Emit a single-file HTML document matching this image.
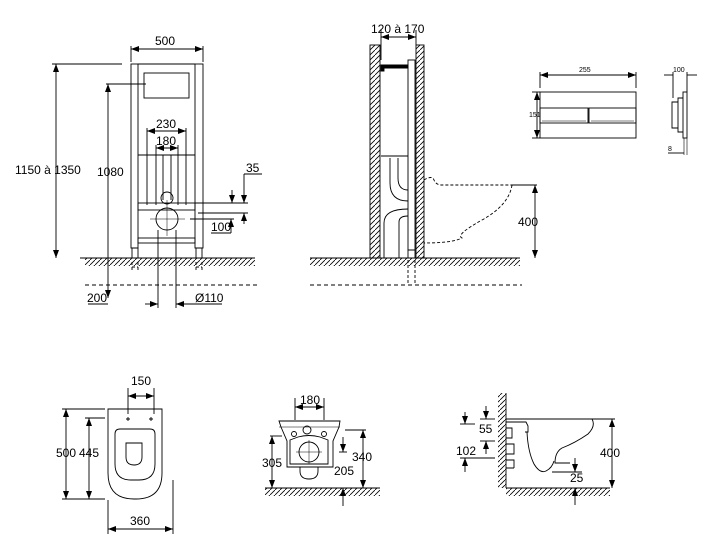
<!DOCTYPE html>
<html><head><meta charset="utf-8"><style>
html,body{margin:0;padding:0;background:#fff;}
svg{display:block;}
text{font-family:"Liberation Sans",sans-serif;font-size:12px;fill:#000;}
.s{font-size:7px;}
</style></head><body>
<svg width="720" height="552" viewBox="0 0 720 552" xmlns="http://www.w3.org/2000/svg">
<defs>
<pattern id="h" width="5" height="5" patternUnits="userSpaceOnUse"><path d="M0 5L5 0" stroke="#000" stroke-width="0.8"/></pattern>
<marker id="a" markerWidth="8" markerHeight="6" refX="8" refY="3" orient="auto-start-reverse" markerUnits="userSpaceOnUse"><path d="M0 0L8 3L0 6z" fill="#000"/></marker>
</defs>
<g stroke="#000" fill="none" stroke-width="0.9">
<!-- ===== Frame front view ===== -->
<rect x="131" y="64" width="7" height="184"/>
<rect x="195" y="64" width="8" height="184"/>
<line x1="138" y1="64" x2="195" y2="64"/>
<rect x="144" y="73" width="45" height="25"/>
<rect x="132" y="248" width="6" height="10"/><rect x="196" y="248" width="6" height="10"/>
<line x1="131" y1="46" x2="131" y2="62"/><line x1="203" y1="46" x2="203" y2="62"/>
<line x1="131" y1="49" x2="203" y2="49" marker-start="url(#a)" marker-end="url(#a)"/>
<line x1="52" y1="64" x2="122" y2="64"/>
<line x1="56" y1="64" x2="56" y2="258" marker-start="url(#a)" marker-end="url(#a)"/>
<line x1="106" y1="84" x2="146" y2="84"/>
<line x1="108" y1="84" x2="108" y2="258" marker-start="url(#a)"/>
<line x1="108" y1="258" x2="108" y2="298" marker-end="url(#a)"/>
<line x1="138" y1="155" x2="195" y2="155"/>
<line x1="147" y1="128" x2="147" y2="205"/><line x1="186" y1="128" x2="186" y2="205"/>
<line x1="147" y1="131" x2="186" y2="131" marker-start="url(#a)" marker-end="url(#a)"/>
<line x1="156" y1="145" x2="156" y2="205"/><line x1="178" y1="145" x2="178" y2="205"/>
<line x1="156" y1="148" x2="178" y2="148" marker-start="url(#a)" marker-end="url(#a)"/>
<line x1="163" y1="155" x2="163" y2="200"/><line x1="171" y1="155" x2="171" y2="200"/>
<circle cx="167" cy="198" r="6"/>
<rect x="138" y="203" width="57" height="7"/>
<circle cx="167" cy="219" r="11"/>
<line x1="150" y1="219" x2="185" y2="219" stroke-width="0.5"/><line x1="167" y1="200" x2="167" y2="236" stroke-width="0.5"/>
<line x1="158" y1="230" x2="158" y2="258"/><line x1="176" y1="230" x2="176" y2="258"/>
<rect x="138" y="238" width="57" height="5"/>
<line x1="195" y1="203" x2="248" y2="203"/><line x1="198" y1="213" x2="248" y2="213"/>
<line x1="232" y1="190" x2="232" y2="203" marker-end="url(#a)"/>
<line x1="244" y1="174" x2="244" y2="203" marker-end="url(#a)"/>
<line x1="244" y1="174" x2="262" y2="174"/>
<line x1="244" y1="213" x2="244" y2="224" marker-start="url(#a)"/>
<line x1="190" y1="219" x2="234" y2="219"/>
<line x1="211" y1="233" x2="231" y2="233"/>
<line x1="231" y1="219" x2="231" y2="233" marker-start="url(#a)"/>
<line x1="80" y1="258" x2="255" y2="258"/>
<rect x="85" y="258" width="170" height="8" fill="url(#h)" stroke="none"/>
<line x1="85" y1="285" x2="260" y2="285" stroke-dasharray="4,3"/>
<path d="M132 262v10M138 262v10M132 267h6M196 262v10M202 262v10M196 267h6" stroke-dasharray="3,2"/>
<line x1="158" y1="258" x2="158" y2="308"/><line x1="176" y1="258" x2="176" y2="308"/>
<line x1="88" y1="304" x2="108" y2="304"/>
<line x1="145" y1="304" x2="158" y2="304" marker-end="url(#a)"/>
<line x1="176" y1="304" x2="222" y2="304" marker-start="url(#a)"/>

<!-- ===== Side section ===== -->
<rect x="370" y="45" width="10" height="213" fill="url(#h)"/>
<rect x="416" y="45" width="8" height="213" fill="url(#h)"/>
<line x1="381" y1="37" x2="416" y2="37" marker-start="url(#a)" marker-end="url(#a)"/>
<line x1="381" y1="30" x2="381" y2="60"/><line x1="416" y1="30" x2="416" y2="45"/>
<rect x="408" y="60" width="7" height="190"/>
<path d="M381 65h27v3h-24v3h-3z" fill="#000"/>
<line x1="381" y1="156" x2="408" y2="156"/>
<path d="M390 158v25q0 18 18 18M398 158v20q0 12 10 12"/>
<path d="M384 258v-35q0-14 24-14M399 258v-36q0-6 9-6"/>
<rect x="408" y="250" width="7" height="8"/>
<path d="M424 180q8-5 10 0q2 5 8 5h70M512 185q-3 20-30 35t-20 18q-10 5-38 5" stroke-dasharray="3,2"/>
<line x1="512" y1="185" x2="537" y2="185"/>
<line x1="535" y1="185" x2="535" y2="258" marker-start="url(#a)" marker-end="url(#a)"/>
<line x1="310" y1="258" x2="520" y2="258"/>
<rect x="310" y="258" width="210" height="8" fill="url(#h)" stroke="none"/>
<line x1="310" y1="285" x2="522" y2="285" stroke-dasharray="4,3"/>
<path d="M408 260v24M415 260v24" stroke-dasharray="3,2"/>

<!-- ===== Flush plate ===== -->
<rect x="540" y="92" width="96" height="46"/>
<rect x="540" y="108" width="48" height="15"/><rect x="589" y="108" width="47" height="15"/>
<line x1="542" y1="121" x2="586" y2="121" stroke-width="0.6"/><line x1="591" y1="121" x2="634" y2="121" stroke-width="0.6"/>
<line x1="540" y1="72" x2="540" y2="88"/><line x1="636" y1="72" x2="636" y2="88"/>
<line x1="540" y1="75" x2="636" y2="75" marker-start="url(#a)" marker-end="url(#a)"/>
<line x1="532" y1="92" x2="540" y2="92"/><line x1="532" y1="138" x2="540" y2="138"/>
<line x1="537" y1="92" x2="537" y2="138" marker-start="url(#a)" marker-end="url(#a)"/>
<rect x="683" y="92" width="4" height="46"/>
<path d="M683 98h-5v34h5M678 102h-6v26h6"/>
<line x1="684" y1="138" x2="684" y2="155" stroke-width="0.6"/><line x1="687" y1="138" x2="687" y2="155" stroke-width="0.6"/>
<line x1="664" y1="75" x2="673" y2="75"/><line x1="687" y1="75" x2="697" y2="75"/>
<line x1="673" y1="72" x2="673" y2="98"/><line x1="687" y1="72" x2="687" y2="92"/>
<line x1="668" y1="153" x2="684" y2="153"/>

<!-- ===== Seat top view ===== -->
<path d="M108 409h54v64q0 26-26 26h-2q-26 0-26-26z"/>
<path d="M115 434q0-5 5-5h30q5 0 5 5v30q0 16-16 16h-8q-16 0-16-16z"/>
<path d="M126 443h16v14q0 8-8 8q-8 0-8-8z"/>
<path d="M126 419h4M128 417v4M149 419h4M151 417v4"/>
<line x1="128" y1="388" x2="128" y2="414"/><line x1="154" y1="388" x2="154" y2="414"/>
<line x1="128" y1="396" x2="154" y2="396" marker-start="url(#a)" marker-end="url(#a)"/>
<line x1="62" y1="409" x2="105" y2="409"/><line x1="62" y1="499" x2="105" y2="499"/>
<line x1="66" y1="409" x2="66" y2="499" marker-start="url(#a)" marker-end="url(#a)"/>
<line x1="85" y1="418" x2="105" y2="418"/>
<line x1="89" y1="418" x2="89" y2="499" marker-start="url(#a)" marker-end="url(#a)"/>
<line x1="108" y1="500" x2="108" y2="534"/><line x1="173" y1="480" x2="173" y2="534"/>
<line x1="108" y1="529" x2="173" y2="529" marker-start="url(#a)" marker-end="url(#a)"/>

<!-- ===== Front view bowl ===== -->
<path d="M279 421h61l-1 6l-6 14v26h-46v-26l-6-14z"/>
<line x1="279" y1="427" x2="340" y2="427" stroke-width="0.5"/>
<path d="M290 440l8-3q11-3 22 0l8 3v24h-38z"/>
<circle cx="307" cy="430" r="4"/><circle cx="309" cy="452" r="10"/>
<line x1="296" y1="452" x2="322" y2="452" stroke-width="0.5"/><line x1="309" y1="440" x2="309" y2="464" stroke-width="0.5"/>
<path d="M300 467v4q0 8 9 8q9 0 9-8v-4"/>
<circle cx="294" cy="434" r="2.5"/><circle cx="324" cy="434" r="2.5"/>
<line x1="295" y1="398" x2="295" y2="420"/><line x1="324" y1="398" x2="324" y2="420"/>
<line x1="295" y1="407" x2="324" y2="407" marker-start="url(#a)" marker-end="url(#a)"/>
<line x1="270" y1="436" x2="282" y2="436"/>
<line x1="272" y1="436" x2="272" y2="488" marker-start="url(#a)" marker-end="url(#a)"/>
<line x1="343" y1="437" x2="343" y2="452" marker-end="url(#a)"/>
<line x1="339" y1="452" x2="347" y2="452"/>
<line x1="343" y1="488" x2="343" y2="506" marker-start="url(#a)"/>
<line x1="345" y1="430" x2="366" y2="430"/>
<line x1="363" y1="430" x2="363" y2="488" marker-start="url(#a)" marker-end="url(#a)"/>
<line x1="265" y1="488" x2="380" y2="488"/>
<rect x="265" y="488" width="115" height="8" fill="url(#h)" stroke="none"/>

<!-- ===== Side view bowl ===== -->
<rect x="498" y="393" width="8" height="95" fill="url(#h)" stroke="none"/>
<line x1="506" y1="393" x2="506" y2="488"/>
<line x1="506" y1="488" x2="610" y2="488"/>
<rect x="506" y="488" width="104" height="8" fill="url(#h)" stroke="none"/>
<path d="M506 419H592Q596 426 588 434Q575 443 562 448Q555 452 555 463H570"/>
<path d="M506 422h20l2 4v6h-3"/>
<path d="M527 432Q528 452 534 464Q540 474 546 471Q552 468 554 461"/>
<path d="M506 428h6v10h-6"/>
<path d="M506 444h8v10h-8"/>
<path d="M506 460h8v8M514 468h-8"/>
<line x1="592" y1="419" x2="615" y2="419"/>
<line x1="612" y1="419" x2="612" y2="488" marker-start="url(#a)" marker-end="url(#a)"/>
<line x1="480" y1="419" x2="495" y2="419"/><line x1="480" y1="441" x2="495" y2="441"/>
<line x1="486" y1="406" x2="486" y2="419" marker-end="url(#a)"/>
<line x1="486" y1="441" x2="486" y2="454" marker-start="url(#a)"/>
<line x1="460" y1="424" x2="475" y2="424"/>
<line x1="460" y1="458" x2="495" y2="458"/>
<line x1="465" y1="412" x2="465" y2="424" marker-end="url(#a)"/>
<line x1="465" y1="458" x2="465" y2="472" marker-start="url(#a)"/>
<line x1="552" y1="472" x2="582" y2="472"/>
<line x1="575" y1="458" x2="575" y2="472" marker-end="url(#a)"/>
<line x1="575" y1="488" x2="575" y2="505" marker-start="url(#a)"/>
</g>
<text x="155" y="45">500</text>
<text x="15" y="174">1150 à 1350</text>
<text x="97" y="176">1080</text>
<text x="156" y="128">230</text>
<text x="156" y="145">180</text>
<text x="246" y="172">35</text>
<text x="211" y="231">100</text>
<text x="87" y="302">200</text>
<text x="195" y="302">Ø110</text>
<text x="371" y="33">120 à 170</text>
<text x="518" y="226">400</text>
<text class="s" x="579" y="72">255</text>
<text class="s" x="529" y="117">151</text>
<text class="s" x="673" y="72">100</text>
<text class="s" x="668" y="151">8</text>
<text x="131" y="385">150</text>
<text x="56" y="457">500</text>
<text x="79" y="457">445</text>
<text x="130" y="525">360</text>
<text x="300" y="404">180</text>
<text x="262" y="467">305</text>
<text x="352" y="461">340</text>
<text x="334" y="475">205</text>
<text x="479" y="433">55</text>
<text x="456" y="455">102</text>
<text x="600" y="457">400</text>
<text x="570" y="482">25</text>
</svg>
</body></html>
